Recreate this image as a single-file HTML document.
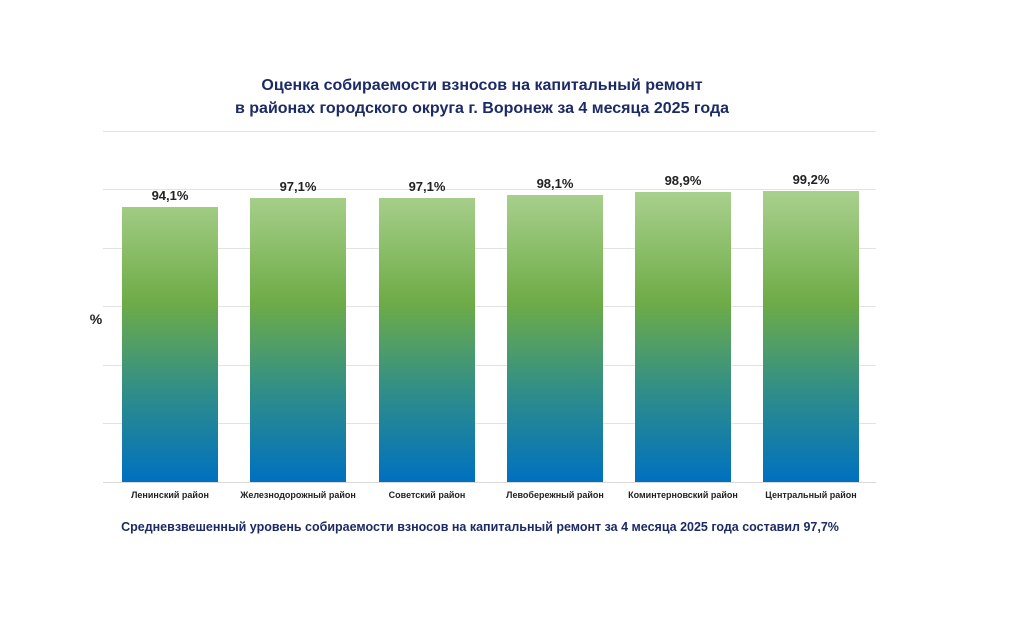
<!DOCTYPE html>
<html><head><meta charset="utf-8"><style>
body{margin:0;background:#fff;width:1032px;height:626px;overflow:hidden}
svg{display:block;font-family:"Liberation Sans","DejaVu Sans",sans-serif}
</style></head><body>
<svg width="1032" height="626" viewBox="0 0 1032 626">
<defs>
<linearGradient id="g" gradientUnits="userSpaceOnUse" x1="0" y1="191" x2="0" y2="482">
<stop offset="0" stop-color="#a9d18e"/>
<stop offset="0.38" stop-color="#6fac47"/>
<stop offset="0.7" stop-color="#2e8d8a"/>
<stop offset="1" stop-color="#0070c0"/>
</linearGradient>
</defs>
<text x="482" y="90" text-anchor="middle" font-size="16" font-weight="bold" fill="#1c2a66">Оценка собираемости взносов на капитальный ремонт</text>
<text x="482" y="113" text-anchor="middle" font-size="16" font-weight="bold" fill="#1c2a66">в районах городского округа г. Воронеж за 4 месяца 2025 года</text>
<g stroke="#e3e3e3" stroke-width="1">
<line x1="103" y1="131.5" x2="876" y2="131.5"/>
<line x1="103" y1="189.5" x2="876" y2="189.5"/>
<line x1="103" y1="248.5" x2="876" y2="248.5"/>
<line x1="103" y1="306.5" x2="876" y2="306.5"/>
<line x1="103" y1="365.5" x2="876" y2="365.5"/>
<line x1="103" y1="423.5" x2="876" y2="423.5"/>
</g>
<line x1="103" y1="482.5" x2="876" y2="482.5" stroke="#d9d9d9"/>
<text x="96" y="324" text-anchor="middle" font-size="14" font-weight="bold" fill="#222">%</text>
<g fill="url(#g)">
<rect x="122" y="207" width="96" height="275"/>
<rect x="250" y="198" width="96" height="284"/>
<rect x="379" y="198" width="96" height="284"/>
<rect x="507" y="195" width="96" height="287"/>
<rect x="635" y="192" width="96" height="290"/>
<rect x="763" y="191" width="96" height="291"/>
</g>
<g font-size="13" font-weight="bold" fill="#222" text-anchor="middle">
<text x="170" y="200">94,1%</text>
<text x="298" y="191">97,1%</text>
<text x="427" y="191">97,1%</text>
<text x="555" y="188">98,1%</text>
<text x="683" y="185">98,9%</text>
<text x="811" y="184">99,2%</text>
</g>
<g font-size="9" font-weight="bold" fill="#222" text-anchor="middle">
<text x="170" y="498">Ленинский район</text>
<text x="298" y="498">Железнодорожный район</text>
<text x="427" y="498">Советский район</text>
<text x="555" y="498">Левобережный район</text>
<text x="683" y="498">Коминтерновский район</text>
<text x="811" y="498">Центральный район</text>
</g>
<text x="480" y="531" text-anchor="middle" font-size="12.5" font-weight="bold" fill="#1c2a66">Средневзвешенный уровень собираемости взносов на капитальный ремонт за 4 месяца 2025 года составил 97,7%</text>
</svg>
</body></html>
